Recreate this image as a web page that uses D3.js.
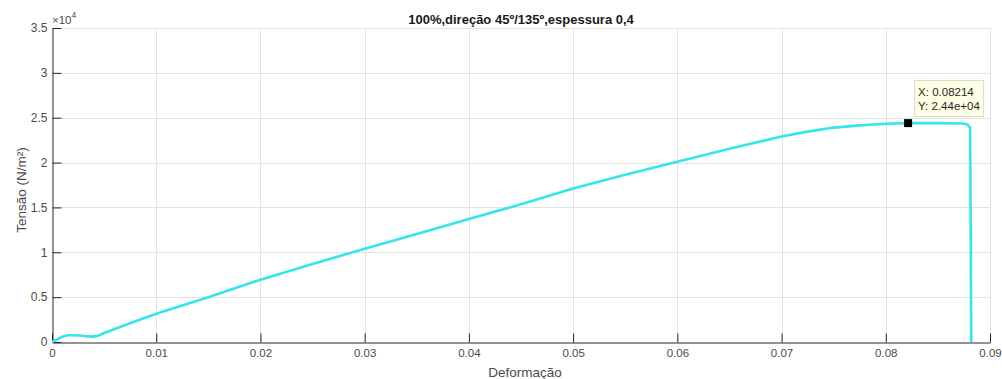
<!DOCTYPE html>
<html><head><meta charset="utf-8">
<script src="https://cdn.jsdelivr.net/npm/d3@7"></script>
<style>body{margin:0;background:#fff;}svg{display:block;font-family:"Liberation Sans",Arial,sans-serif;}</style>
</head><body>
<script>
// Data (Deformação vs Tensão N/m²)
const strain = [0, 0.0005, 0.001, 0.0015, 0.002, 0.0027, 0.0032, 0.0038, 0.0044, 0.005, 0.0075, 0.01, 0.015, 0.02, 0.025, 0.03, 0.035, 0.04, 0.045, 0.05, 0.055, 0.06, 0.065, 0.07, 0.0725, 0.075, 0.0775, 0.08, 0.08214, 0.085, 0.0873, 0.0877, 0.0879, 0.0881, 0.0881, 0.0882];
const stress = [0, 300, 600, 750, 760, 730, 650, 600, 680, 1000, 2100, 3150, 5000, 6950, 8700, 10400, 12050, 13700, 15350, 17100, 18650, 20100, 21550, 22900, 23450, 23900, 24150, 24330, 24400, 24400, 24350, 24300, 24150, 23900, 23000, 0];
const xTicks = [0, 0.01, 0.02, 0.03, 0.04, 0.05, 0.06, 0.07, 0.08, 0.09];
const yTicks = [0, 5000, 10000, 15000, 20000, 25000, 30000, 35000];
const tipPoint = {x: 0.08214, y: 24400};
const tipLabels = ["X: 0.08214", "Y: 2.44e+04"];
const titleText = "100%,direção 45º/135º,espessura 0,4";
const xLabel = "Deformação";
const yLabel = "Tensão (N/m²)";

const W = 1002, H = 379;
const m = {left: 52, right: 990, top: 28, bottom: 342};
const svg = d3.select("body").append("svg").attr("width", W).attr("height", H);
const x = d3.scaleLinear().domain([0, 0.09]).range([m.left, m.right]);
const y = d3.scaleLinear().domain([0, 35000]).range([m.bottom, m.top]);
const axisColor = "#262626";
const tickColor = "#4a4a4a";

// grid
const g = svg.append("g");
g.selectAll(".vg").data(xTicks.slice(1)).enter().append("line")
  .attr("x1", d => Math.round(x(d)) + 0.5).attr("x2", d => Math.round(x(d)) + 0.5)
  .attr("y1", m.top).attr("y2", m.bottom).attr("stroke", "#e3e3e3").attr("stroke-width", 1);
g.selectAll(".hg").data(yTicks.slice(1)).enter().append("line")
  .attr("y1", d => Math.round(y(d)) + 0.5).attr("y2", d => Math.round(y(d)) + 0.5)
  .attr("x1", m.left).attr("x2", m.right).attr("stroke", "#e3e3e3").attr("stroke-width", 1);

// axes
const xAxis = d3.axisBottom(x).tickValues(xTicks).tickSizeInner(-9).tickSizeOuter(0).tickPadding(13)
  .tickFormat(d => d === 0 ? "0" : d3.format(".2f")(d).replace(/0$/, "") );
const xa = svg.append("g").attr("transform", `translate(0,${m.bottom + 0.5})`).call(xAxis);
const yAxis = d3.axisLeft(y).tickValues(yTicks).tickSizeInner(-9).tickSizeOuter(0).tickPadding(5)
  .tickFormat(d => String(d / 10000));
const ya = svg.append("g").attr("transform", `translate(${m.left + 0.5},0)`).call(yAxis);
[xa, ya].forEach(a => {
  a.select(".domain").attr("stroke", axisColor);
  a.selectAll(".tick line").attr("stroke", axisColor);
  a.selectAll(".tick text").attr("fill", tickColor).attr("font-size", "11.5px").attr("font-family", "Liberation Sans, Arial, sans-serif");
});
xa.selectAll(".tick text").attr("dy", "0.1em");
ya.selectAll(".tick text").attr("font-size", "12px");

// exponent
const ex = svg.append("text").attr("x", m.left).attr("y", 24).attr("fill", tickColor)
  .attr("font-size", "11.5px");
ex.append("tspan").text("×10");
ex.append("tspan").attr("dy", -6).attr("font-size", "8.5px").text("4");

// line
const line = d3.line().x((d, i) => x(strain[i])).y((d, i) => y(stress[i]));
svg.append("path").datum(stress).attr("d", line).attr("fill", "none")
  .attr("stroke", "#33e6ea").attr("stroke-width", 2.6).attr("stroke-linejoin", "round");

// title & labels
svg.append("text").attr("x", (m.left + m.right) / 2).attr("y", 24).attr("text-anchor", "middle")
  .attr("font-weight", "bold").attr("font-size", "13px").attr("fill", "#1a1a1a").text(titleText);
svg.append("text").attr("x", (m.left + m.right) / 2 + 4).attr("y", 377).attr("text-anchor", "middle")
  .attr("font-size", "13.5px").attr("fill", tickColor).text(xLabel);
svg.append("text").attr("transform", `translate(26,${(m.top + m.bottom) / 2 + 5}) rotate(-90)`).attr("text-anchor", "middle")
  .attr("font-size", "13.5px").attr("fill", tickColor).text(yLabel);

// data tip
const px = x(tipPoint.x), py = y(tipPoint.y);
svg.append("rect").attr("x", px + 6.5).attr("y", 80.5).attr("width", 69).attr("height", 36)
  .attr("fill", "#ffffe6").attr("stroke", "#d9d9cf").attr("stroke-width", 1);
tipLabels.forEach((t, i) => {
  svg.append("text").attr("x", px + 10).attr("y", 96 + i * 14).attr("font-size", "11.5px").attr("fill", "#262626").text(t);
});
svg.append("rect").attr("x", px - 4).attr("y", py - 4).attr("width", 8).attr("height", 8).attr("fill", "#000");
</script>
</body></html>
